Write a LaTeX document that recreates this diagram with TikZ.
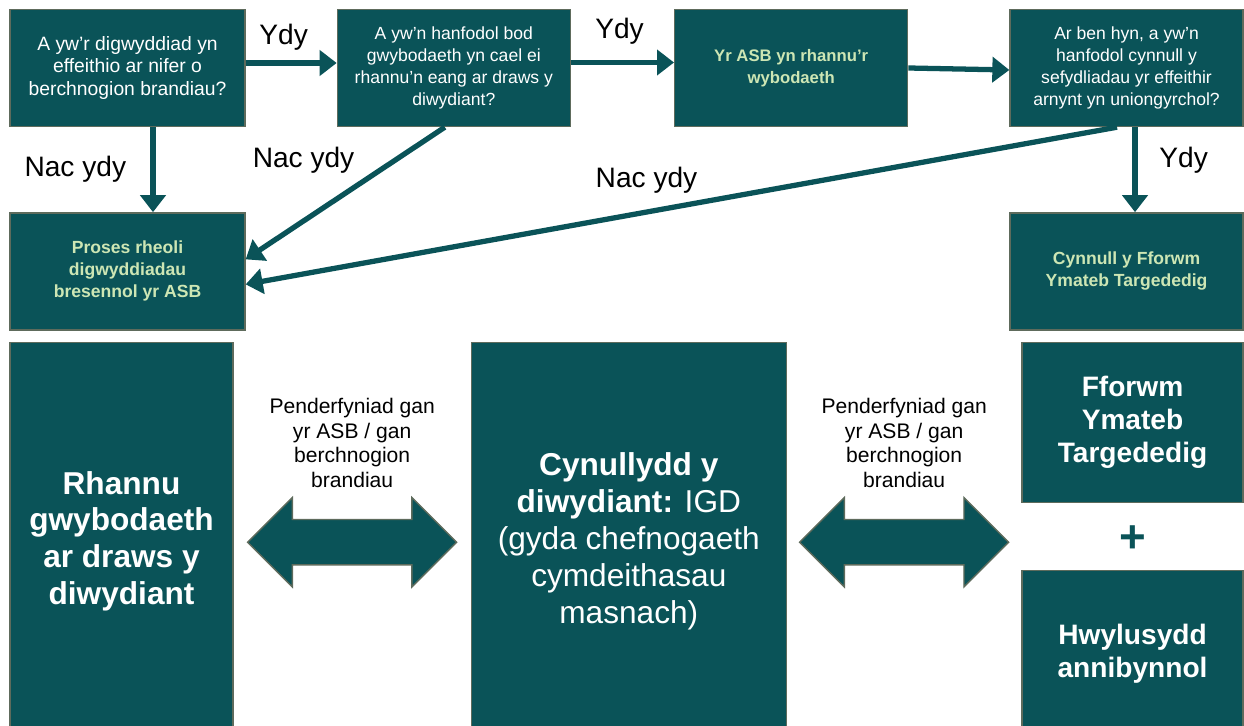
\documentclass[tikz,border=0pt]{standalone}
\usepackage{fontspec}
\setmainfont{Liberation Sans}
\usepackage{xcolor}
\usetikzlibrary{positioning,calc,shapes.arrows,arrows.meta}

\definecolor{igdteal}{HTML}{0A5358}
\definecolor{igdedge}{HTML}{5E6B5C}
\definecolor{igdmint}{HTML}{CDE6B4}

\begin{document}
\begin{tikzpicture}[x=0.02cm, y=-0.02cm,
        box/.style={draw=igdedge, line width=0.8pt, fill=igdteal, text=white, align=center, inner sep=2pt,
            font=\fontsize{10}{12.5}\selectfont},
        smallbox/.style={box, minimum width=4.66cm, minimum height=2.34cm},
        keybox/.style={smallbox, text=igdmint, font=\bfseries\fontsize{10}{12.5}\selectfont},
        bigbox/.style={box, font=\bfseries\fontsize{18}{21}\selectfont},
        arr/.style={-{Triangle[length=0.34cm, width=0.5cm]}, line width=3pt, draw=igdteal},
        ans/.style={font=\fontsize{16}{18}\selectfont, text=black, inner sep=1pt},
        dbl/.style={double arrow, draw=igdedge, line width=0.8pt, fill=igdteal, minimum height=4.18cm,
            minimum width=1.76cm, inner sep=0.44cm, double arrow head extend=0.44cm},
        note/.style={align=center, font=\fontsize{12}{14}\selectfont}
    ]
    \useasboundingbox (0,0) rectangle (1244,726);

    % top row of questions
    \node [smallbox, minimum width=4.7cm, font=\fontsize{11}{12.8}\selectfont] (q1) at (127.5,68) {A yw’r digwyddiad yn\\effeithio ar nifer o\\berchnogion brandiau?};
    \node [smallbox, right=1.82cm of q1] (q2) {A yw’n hanfodol bod\\gwybodaeth yn cael ei\\rhannu’n eang ar draws y\\diwydiant?};
    \node [keybox, right=2.06cm of q2, font=\bfseries\fontsize{9.5}{12.5}\selectfont] (share) {Yr ASB yn rhannu’r\\wybodaeth};
    \node [smallbox, right=2.02cm of share] (q3) {Ar ben hyn, a yw’n\\hanfodol cynnull y\\sefydliadau yr effeithir\\arnynt yn uniongyrchol?};

    % outcomes
    \node [keybox, minimum width=4.7cm, below=1.7cm of q1] (proc) {Proses rheoli\\digwyddiadau\\bresennol yr ASB};
    \node [keybox, below=1.7cm of q3] (convene) {Cynnull y Fforwm\\Ymateb Targededig};

    % bottom row
    \node [bigbox, minimum width=4.46cm, minimum height=7.96cm, below=0.22cm of proc.south west, anchor=north west] (sharing) {Rhannu\\gwybodaeth\\ar draws y\\diwydiant};
    \node [bigbox, minimum width=6.3cm, minimum height=7.96cm, right=4.74cm of sharing.north east, anchor=north west, font=\fontsize{18}{21}\selectfont] (igd)
        {\textbf{Cynullydd y}\\\textbf{diwydiant:} IGD\\(gyda chefnogaeth\\cymdeithasau\\masnach)};
    \node [bigbox, minimum width=4.42cm, minimum height=3.2cm, below=0.22cm of convene.south east, anchor=north east, font=\bfseries\fontsize{16}{19}\selectfont] (forum) {Fforwm\\Ymateb\\Targededig};
    \node [bigbox, minimum width=4.42cm, minimum height=3.32cm, below=1.34cm of forum.south, anchor=north, font=\bfseries\fontsize{16}{18.5}\selectfont] (facil) {Hwylusydd\\annibynnol};
    \node [text=igdteal, font=\bfseries\fontsize{26}{26}\selectfont, inner sep=0pt, yshift=-0.06cm] (plus) at ($(forum.south)!0.5!(facil.north)$) {+};

    % two-way arrows
    \node [dbl, yshift=-0.02cm] (da1) at ($(sharing.east)!0.5!(igd.west)$) {};
    \node [dbl, yshift=-0.02cm] (da2) at ($(igd.east)!0.5!(igd.east -| forum.west)$) {};
    \node [note, above=0.5cm of da1] (n1) {Penderfyniad gan\\yr ASB / gan\\berchnogion\\brandiau};
    \node [note, above=0.5cm of da2] (n2) {Penderfyniad gan\\yr ASB / gan\\berchnogion\\brandiau};

    % decision arrows
    \draw [arr] ([yshift=0.1cm]q1.east) -- node[ans, above=0.17cm, xshift=-0.15cm]{Ydy} ([yshift=0.1cm]q2.west);
    \draw [arr] ([yshift=0.11cm]q2.east) -- node[ans, above=0.27cm, xshift=-0.06cm]{Ydy} ([yshift=0.11cm]share.west);
    \draw [arr] (share.east) -- ([yshift=-0.04cm]q3.west);
    \draw [arr] ([xshift=0.51cm]q1.south) -- node[ans, left=0.45cm]{Nac ydy} ([xshift=0.51cm]proc.north);
    \draw [arr] ([xshift=-0.18cm]q2.south) -- node[ans, pos=0.42, above left=0.1cm and 0.05cm]{Nac ydy} ([yshift=0.24cm]proc.east);
    \draw [arr] ([xshift=-0.19cm]q3.south) -- node[ans, pos=0.54, above=0.28cm]{Nac ydy} ([yshift=-0.26cm]proc.east);
    \draw [arr] ([xshift=0.17cm]q3.south) -- node[ans, right=0.4cm, yshift=0.18cm]{Ydy} ([xshift=0.17cm]convene.north);
\end{tikzpicture}
\end{document}
